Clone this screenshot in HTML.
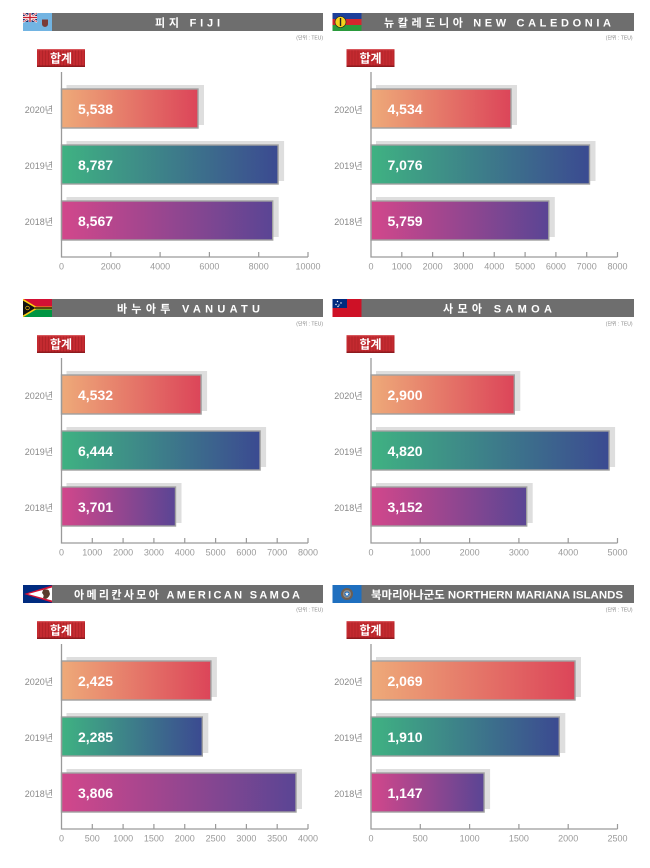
<!DOCTYPE html>
<html><head><meta charset="utf-8">
<style>
html,body{margin:0;padding:0;background:#fff;}
svg{display:block}
.ttl{font-family:"Liberation Sans","Noto Sans CJK KR",sans-serif;font-size:11px;font-weight:bold;fill:#fff;}
.unit{font-family:"Liberation Sans","Noto Sans CJK KR",sans-serif;font-size:5px;fill:#888;text-anchor:end;}
.bdg{font-family:"Liberation Sans","Noto Sans CJK KR",sans-serif;font-size:12px;font-weight:bold;fill:#fff;text-anchor:middle;}
.tk{font-family:"Liberation Sans",sans-serif;font-size:9px;fill:#9a9a9a;text-anchor:middle;}
.yr{font-family:"Liberation Sans","Noto Sans CJK KR",sans-serif;font-size:9px;fill:#8a8a8a;text-anchor:end;}
.val{font-family:"Liberation Sans",sans-serif;font-size:14px;font-weight:bold;fill:#fff;}
</style></head>
<body>
<svg width="650" height="868" viewBox="0 0 650 868" xmlns="http://www.w3.org/2000/svg">
<defs>
<linearGradient id="g20" x1="0" y1="0" x2="1" y2="0"><stop offset="0" stop-color="#eeaa79"/><stop offset="1" stop-color="#dc4559"/></linearGradient>
<linearGradient id="g19" x1="0" y1="0" x2="1" y2="0"><stop offset="0" stop-color="#3fb282"/><stop offset="1" stop-color="#3b4a91"/></linearGradient>
<linearGradient id="g18" x1="0" y1="0" x2="1" y2="0"><stop offset="0" stop-color="#d2478b"/><stop offset="1" stop-color="#5a4594"/></linearGradient>
<pattern id="stripes" patternUnits="userSpaceOnUse" width="3" height="18"><rect x="0" y="0" width="1" height="18" fill="#9c1c22" opacity="0.45"/></pattern>
<g id="badge">
<rect x="37" y="49" width="48" height="18" fill="#c42a30"/>
<rect x="37" y="49" width="48" height="18" fill="url(#stripes)"/>
<rect x="37" y="49" width="48" height="1.2" fill="#d8575c"/>
<rect x="37" y="65.5" width="48" height="1.5" fill="#8e1a1e"/>
</g>
<path id="ticksA" d="M110.8 252V257M160.1 252V257M209.4 252V257M258.7 252V257M308 252V257" stroke="#9a9a9a" stroke-width="1.2" fill="none"/>
<path id="ticksB" d="M92.3 252V257M123.1 252V257M153.9 252V257M184.75 252V257M215.6 252V257M246.4 252V257M277.2 252V257M308 252V257" stroke="#9a9a9a" stroke-width="1.2" fill="none"/>
<path id="axis" d="M61.5 72V257H308" stroke="#9a9a9a" stroke-width="1.3" fill="none"/>
</defs>

<!-- PANEL 1 FIJI -->
<g transform="translate(0,0)">
<rect x="52" y="13" width="271" height="18" fill="#6e6e6e"/>
<rect x="23" y="13" width="29" height="18" fill="#72b4e2"/>
<rect x="23" y="13" width="14" height="9" fill="#1f2d6b"/>
<path d="M23 13L37 22M37 13L23 22" stroke="#fff" stroke-width="2"/>
<path d="M23 13L37 22M37 13L23 22" stroke="#c8202f" stroke-width="0.7"/>
<rect x="28.5" y="13" width="3" height="9" fill="#fff"/><rect x="23" y="16" width="14" height="3" fill="#fff"/>
<rect x="29.3" y="13" width="1.4" height="9" fill="#c8202f"/><rect x="23" y="16.8" width="14" height="1.4" fill="#c8202f"/>
<path d="M42 19.5H48V24Q48 26.5 45 27Q42 26.5 42 24Z" fill="#7a3b38"/>
<text x="155" y="26.5" textLength="65" lengthAdjust="spacing" class="ttl">피지 FIJI</text>
<text x="323" y="39.5" class="unit">(단위 : TEU)</text>
<use href="#badge"/>
<text x="61" y="62.5" class="bdg">합계</text>
<rect x="66.5" y="85" width="137.5" height="40" fill="#dedede"/>
<rect x="66.5" y="141" width="217.6" height="40" fill="#dedede"/>
<rect x="66.5" y="197" width="212.2" height="40" fill="#dedede"/>
<rect x="61.5" y="89" width="136.5" height="39" fill="url(#g20)" stroke="#a0a0a0" stroke-width="1.4"/>
<rect x="61.5" y="145" width="216.6" height="39" fill="url(#g19)" stroke="#a0a0a0" stroke-width="1.4"/>
<rect x="61.5" y="201" width="211.2" height="39" fill="url(#g18)" stroke="#a0a0a0" stroke-width="1.4"/>
<use href="#axis"/><use href="#ticksA"/>
<text x="78" y="114" class="val">5,538</text>
<text x="78" y="170" class="val">8,787</text>
<text x="78" y="226" class="val">8,567</text>
<text x="53" y="113" class="yr">2020년</text>
<text x="53" y="169" class="yr">2019년</text>
<text x="53" y="225" class="yr">2018년</text>
<text x="61.5" y="269.5" class="tk">0</text><text x="110.8" y="269.5" class="tk">2000</text><text x="160.1" y="269.5" class="tk">4000</text><text x="209.4" y="269.5" class="tk">6000</text><text x="258.7" y="269.5" class="tk">8000</text><text x="308" y="269.5" class="tk">10000</text>
</g>

<!-- PANEL 2 NEW CALEDONIA -->
<g transform="translate(309.5,0)">
<rect x="52" y="13" width="272.5" height="18" fill="#6e6e6e"/>
<rect x="23" y="13" width="29" height="6" fill="#1c3f9a"/>
<rect x="23" y="19" width="29" height="6" fill="#d3262d"/>
<rect x="23" y="25" width="29" height="6" fill="#2a9a3c"/>
<circle cx="31" cy="22" r="5.5" fill="#f4d21c" stroke="#222" stroke-width="0.6"/>
<rect x="30.3" y="18" width="1.4" height="8" fill="#222"/>
<text x="74.5" y="26.5" textLength="227" lengthAdjust="spacing" class="ttl">뉴칼레도니아 NEW CALEDONIA</text>
<text x="323" y="39.5" class="unit">(단위 : TEU)</text>
<use href="#badge"/>
<text x="61" y="62.5" class="bdg">합계</text>
<rect x="66.5" y="85" width="141" height="40" fill="#dedede"/>
<rect x="66.5" y="141" width="219.5" height="40" fill="#dedede"/>
<rect x="66.5" y="197" width="178.8" height="40" fill="#dedede"/>
<rect x="61.5" y="89" width="140" height="39" fill="url(#g20)" stroke="#a0a0a0" stroke-width="1.4"/>
<rect x="61.5" y="145" width="218.5" height="39" fill="url(#g19)" stroke="#a0a0a0" stroke-width="1.4"/>
<rect x="61.5" y="201" width="177.8" height="39" fill="url(#g18)" stroke="#a0a0a0" stroke-width="1.4"/>
<use href="#axis"/><use href="#ticksB"/>
<text x="78" y="114" class="val">4,534</text>
<text x="78" y="170" class="val">7,076</text>
<text x="78" y="226" class="val">5,759</text>
<text x="53" y="113" class="yr">2020년</text>
<text x="53" y="169" class="yr">2019년</text>
<text x="53" y="225" class="yr">2018년</text>
<text x="61.5" y="269.5" class="tk">0</text><text x="92.3" y="269.5" class="tk">1000</text><text x="123.1" y="269.5" class="tk">2000</text><text x="153.9" y="269.5" class="tk">3000</text><text x="184.75" y="269.5" class="tk">4000</text><text x="215.6" y="269.5" class="tk">5000</text><text x="246.4" y="269.5" class="tk">6000</text><text x="277.2" y="269.5" class="tk">7000</text><text x="308" y="269.5" class="tk">8000</text>
</g>

<!-- PANEL 3 VANUATU -->
<g transform="translate(0,286)">
<rect x="52" y="13" width="271" height="18" fill="#6e6e6e"/>
<rect x="23" y="13" width="29" height="9" fill="#d21034"/>
<rect x="23" y="22" width="29" height="9" fill="#009543"/>
<polygon points="23,12.8 38.5,22 23,31.2" fill="#fdce12"/>
<rect x="36" y="20.6" width="16" height="2.8" fill="#fdce12"/>
<rect x="35" y="21.3" width="17" height="1.4" fill="#111"/>
<polygon points="23,14.6 35.5,22 23,29.4" fill="#111"/>
<circle cx="27.5" cy="22" r="1.8" fill="none" stroke="#fdce12" stroke-width="0.6"/>
<text x="117" y="26.5" textLength="143" lengthAdjust="spacing" class="ttl">바누아투 VANUATU</text>
<text x="323" y="39.5" class="unit">(단위 : TEU)</text>
<use href="#badge"/>
<text x="61" y="62.5" class="bdg">합계</text>
<rect x="66.5" y="85" width="140.6" height="40" fill="#dedede"/>
<rect x="66.5" y="141" width="199.6" height="40" fill="#dedede"/>
<rect x="66.5" y="197" width="115" height="40" fill="#dedede"/>
<rect x="61.5" y="89" width="139.6" height="39" fill="url(#g20)" stroke="#a0a0a0" stroke-width="1.4"/>
<rect x="61.5" y="145" width="198.6" height="39" fill="url(#g19)" stroke="#a0a0a0" stroke-width="1.4"/>
<rect x="61.5" y="201" width="114" height="39" fill="url(#g18)" stroke="#a0a0a0" stroke-width="1.4"/>
<use href="#axis"/><use href="#ticksB"/>
<text x="78" y="114" class="val">4,532</text>
<text x="78" y="170" class="val">6,444</text>
<text x="78" y="226" class="val">3,701</text>
<text x="53" y="113" class="yr">2020년</text>
<text x="53" y="169" class="yr">2019년</text>
<text x="53" y="225" class="yr">2018년</text>
<text x="61.5" y="269.5" class="tk">0</text><text x="92.3" y="269.5" class="tk">1000</text><text x="123.1" y="269.5" class="tk">2000</text><text x="153.9" y="269.5" class="tk">3000</text><text x="184.75" y="269.5" class="tk">4000</text><text x="215.6" y="269.5" class="tk">5000</text><text x="246.4" y="269.5" class="tk">6000</text><text x="277.2" y="269.5" class="tk">7000</text><text x="308" y="269.5" class="tk">8000</text>
</g>

<!-- PANEL 4 SAMOA -->
<g transform="translate(309.5,286)">
<rect x="52" y="13" width="272.5" height="18" fill="#6e6e6e"/>
<rect x="23" y="13" width="29" height="18" fill="#ce1126"/>
<rect x="23" y="13" width="14.5" height="9" fill="#002b7f"/>
<circle cx="28" cy="15.5" r="0.7" fill="#fff"/><circle cx="31.5" cy="17" r="0.7" fill="#fff"/><circle cx="29.5" cy="19" r="0.6" fill="#fff"/><circle cx="26.5" cy="18.5" r="0.7" fill="#fff"/><circle cx="28.5" cy="20.5" r="0.7" fill="#fff"/>
<text x="133.5" y="26.5" textLength="109" lengthAdjust="spacing" class="ttl">사모아 SAMOA</text>
<text x="323" y="39.5" class="unit">(단위 : TEU)</text>
<use href="#badge"/>
<text x="61" y="62.5" class="bdg">합계</text>
<rect x="66.5" y="85" width="144.3" height="40" fill="#dedede"/>
<rect x="66.5" y="141" width="239.1" height="40" fill="#dedede"/>
<rect x="66.5" y="197" width="156.7" height="40" fill="#dedede"/>
<rect x="61.5" y="89" width="143.3" height="39" fill="url(#g20)" stroke="#a0a0a0" stroke-width="1.4"/>
<rect x="61.5" y="145" width="238.1" height="39" fill="url(#g19)" stroke="#a0a0a0" stroke-width="1.4"/>
<rect x="61.5" y="201" width="155.7" height="39" fill="url(#g18)" stroke="#a0a0a0" stroke-width="1.4"/>
<use href="#axis"/><use href="#ticksA"/>
<text x="78" y="114" class="val">2,900</text>
<text x="78" y="170" class="val">4,820</text>
<text x="78" y="226" class="val">3,152</text>
<text x="53" y="113" class="yr">2020년</text>
<text x="53" y="169" class="yr">2019년</text>
<text x="53" y="225" class="yr">2018년</text>
<text x="61.5" y="269.5" class="tk">0</text><text x="110.8" y="269.5" class="tk">1000</text><text x="160.1" y="269.5" class="tk">2000</text><text x="209.4" y="269.5" class="tk">3000</text><text x="258.7" y="269.5" class="tk">4000</text><text x="308" y="269.5" class="tk">5000</text>
</g>

<!-- PANEL 5 AMERICAN SAMOA -->
<g transform="translate(0,572)">
<rect x="52" y="13" width="271" height="18" fill="#6e6e6e"/>
<rect x="23" y="13" width="29" height="18" fill="#002b7f"/>
<polygon points="52,13.5 52,30.5 24,22" fill="#d21034"/>
<polygon points="52,15.5 52,28.5 28,22" fill="#fff"/>
<path d="M43 18Q47 16.5 49 18.5L50 22Q49 25.5 46 27L43 26Q44.5 23 42 21Z" fill="#5a3a2a"/>
<text x="74" y="26.5" textLength="226" lengthAdjust="spacing" class="ttl">아메리칸사모아 AMERICAN SAMOA</text>
<text x="323" y="39.5" class="unit">(단위 : TEU)</text>
<use href="#badge"/>
<text x="61" y="62.5" class="bdg">합계</text>
<rect x="66.5" y="85" width="150.4" height="40" fill="#dedede"/>
<rect x="66.5" y="141" width="141.8" height="40" fill="#dedede"/>
<rect x="66.5" y="197" width="235.5" height="40" fill="#dedede"/>
<rect x="61.5" y="89" width="149.4" height="39" fill="url(#g20)" stroke="#a0a0a0" stroke-width="1.4"/>
<rect x="61.5" y="145" width="140.8" height="39" fill="url(#g19)" stroke="#a0a0a0" stroke-width="1.4"/>
<rect x="61.5" y="201" width="234.5" height="39" fill="url(#g18)" stroke="#a0a0a0" stroke-width="1.4"/>
<use href="#axis"/><use href="#ticksB"/>
<text x="78" y="114" class="val">2,425</text>
<text x="78" y="170" class="val">2,285</text>
<text x="78" y="226" class="val">3,806</text>
<text x="53" y="113" class="yr">2020년</text>
<text x="53" y="169" class="yr">2019년</text>
<text x="53" y="225" class="yr">2018년</text>
<text x="61.5" y="269.5" class="tk">0</text><text x="92.3" y="269.5" class="tk">500</text><text x="123.1" y="269.5" class="tk">1000</text><text x="153.9" y="269.5" class="tk">1500</text><text x="184.75" y="269.5" class="tk">2000</text><text x="215.6" y="269.5" class="tk">2500</text><text x="246.4" y="269.5" class="tk">3000</text><text x="277.2" y="269.5" class="tk">3500</text><text x="308" y="269.5" class="tk">4000</text>
</g>

<!-- PANEL 6 NORTHERN MARIANA ISLANDS -->
<g transform="translate(309.5,572)">
<rect x="52" y="13" width="272.5" height="18" fill="#6e6e6e"/>
<rect x="23" y="13" width="29" height="18" fill="#1f6fbf"/>
<circle cx="37.5" cy="22" r="6" fill="#6f5f52"/>
<circle cx="37.5" cy="22" r="4" fill="#8a8a8a"/>
<circle cx="37.5" cy="22" r="2.6" fill="#1f6fbf"/>
<polygon points="37.5,19.8 38.1,21.4 39.7,21.4 38.4,22.4 38.9,24 37.5,23 36.1,24 36.6,22.4 35.3,21.4 36.9,21.4" fill="#fff"/>
<text x="61.5" y="26.5" textLength="252" lengthAdjust="spacingAndGlyphs" class="ttl">북마리아나군도 NORTHERN MARIANA ISLANDS</text>
<text x="323" y="39.5" class="unit">(단위 : TEU)</text>
<use href="#badge"/>
<text x="61" y="62.5" class="bdg">합계</text>
<rect x="66.5" y="85" width="205" height="40" fill="#dedede"/>
<rect x="66.5" y="141" width="189.3" height="40" fill="#dedede"/>
<rect x="66.5" y="197" width="114.1" height="40" fill="#dedede"/>
<rect x="61.5" y="89" width="204" height="39" fill="url(#g20)" stroke="#a0a0a0" stroke-width="1.4"/>
<rect x="61.5" y="145" width="188.3" height="39" fill="url(#g19)" stroke="#a0a0a0" stroke-width="1.4"/>
<rect x="61.5" y="201" width="113.1" height="39" fill="url(#g18)" stroke="#a0a0a0" stroke-width="1.4"/>
<use href="#axis"/><use href="#ticksA"/>
<text x="78" y="114" class="val">2,069</text>
<text x="78" y="170" class="val">1,910</text>
<text x="78" y="226" class="val">1,147</text>
<text x="53" y="113" class="yr">2020년</text>
<text x="53" y="169" class="yr">2019년</text>
<text x="53" y="225" class="yr">2018년</text>
<text x="61.5" y="269.5" class="tk">0</text><text x="110.8" y="269.5" class="tk">500</text><text x="160.1" y="269.5" class="tk">1000</text><text x="209.4" y="269.5" class="tk">1500</text><text x="258.7" y="269.5" class="tk">2000</text><text x="308" y="269.5" class="tk">2500</text>
</g>
</svg>
</body></html>
